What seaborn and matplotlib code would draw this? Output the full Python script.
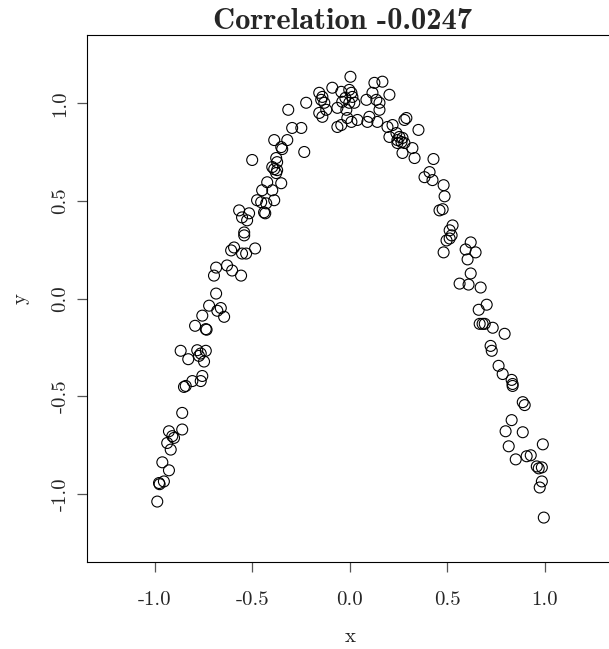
import matplotlib
matplotlib.use("Agg")
import matplotlib.pyplot as plt
import seaborn as sns
import pandas as pd

# ---- data ----
x_vals = [
    -0.722, -0.662, -0.680, -0.757, -0.645, -0.794, -0.739, -0.735, -0.868, -0.829,
    -0.783, -0.739, -0.765, -0.774, -0.748, -0.757, -0.765, -0.808, -0.842, -0.851,
    -0.860, -0.860, -0.928, -0.911, -0.902, -0.937, -0.919, -0.962, -0.928, -0.979,
    -0.954, -0.976, -0.988,
    -0.686, -0.686, -0.630, -0.604, -0.697, -0.558, -0.594, -0.609, -0.553, -0.532, -0.486,
    -0.542, -0.542, -0.568, -0.517, -0.553, -0.527, -0.476, -0.455, -0.429, -0.388, -0.440, -0.434,
    -0.352, -0.424, -0.450, -0.398, -0.378, -0.373, -0.398, -0.388, -0.373, -0.378, -0.501,
    -0.352, -0.347, -0.388, -0.321, -0.234, -0.296, -0.249, -0.316, -0.224,
    -0.157, -0.141, -0.147, -0.131, -0.157, -0.141, -0.121, -0.090, -0.044, -0.003,
    0.008, 0.013, -0.023, -0.039, -0.003, 0.023, -0.064, -0.018, 0.003,
    -0.064, -0.044, 0.008, 0.039, -0.013, 0.100, 0.090, 0.141, 0.085, 0.126,
    0.167, 0.116, 0.136, 0.152, 0.203, 0.152,
    0.193, 0.219, 0.280, 0.290, 0.352, 0.203, 0.239, 0.254, 0.244, 0.265,
    0.270, 0.280, 0.244, 0.321, 0.332, 0.270,
    0.409, 0.383, 0.424,
    0.429, 0.481, 0.486, 0.460, 0.476, 0.527, 0.512, 0.522, 0.496, 0.512,
    0.481, 0.620, 0.594, 0.645, 0.604, 0.620, 0.563, 0.609, 0.671,
    0.702, 0.661, 0.666, 0.681, 0.692, 0.733, 0.794, 0.722, 0.728, 0.763,
    0.784, 0.830, 0.835, 0.835, 0.887, 0.897, 0.830, 0.799, 0.887, 0.815,
    0.851, 0.907, 0.928, 0.990, 0.959, 0.969, 0.985, 0.985, 0.974, 0.995,
]
y_vals = [
    -0.036, -0.048, -0.062, -0.087, -0.093, -0.139, -0.156, -0.159, -0.267, -0.310,
    -0.264, -0.267, -0.281, -0.293, -0.322, -0.396, -0.422, -0.422, -0.447, -0.452,
    -0.585, -0.670, -0.679, -0.704, -0.713, -0.739, -0.773, -0.838, -0.879, -0.944,
    -0.936, -0.950, -1.039,
    0.026, 0.159, 0.170, 0.144, 0.118, 0.118, 0.262, 0.247, 0.231, 0.231, 0.257,
    0.339, 0.324, 0.452, 0.437, 0.416, 0.401, 0.504, 0.494, 0.488, 0.504, 0.442, 0.437,
    0.591, 0.596, 0.555, 0.555, 0.720, 0.699, 0.674, 0.663, 0.658, 0.643, 0.710,
    0.776, 0.766, 0.812, 0.812, 0.751, 0.874, 0.874, 0.967, 1.003,
    1.054, 1.033, 1.018, 1.003, 0.951, 0.931, 0.967, 1.080, 1.059, 1.069,
    1.054, 1.033, 1.028, 1.008, 1.003, 1.003, 0.977, 0.967, 1.136,
    0.879, 0.889, 0.905, 0.915, 0.925, 0.931, 0.905, 0.905, 1.018, 1.105,
    1.111, 1.054, 1.018, 1.003, 1.044, 0.967,
    0.879, 0.889, 0.915, 0.925, 0.864, 0.828, 0.848, 0.828, 0.812, 0.802,
    0.823, 0.797, 0.797, 0.771, 0.720, 0.746,
    0.648, 0.622, 0.607,
    0.715, 0.581, 0.524, 0.452, 0.458, 0.375, 0.350, 0.324, 0.298, 0.308,
    0.237, 0.288, 0.252, 0.237, 0.201, 0.129, 0.077, 0.072, 0.057,
    -0.031, -0.057, -0.129, -0.129, -0.129, -0.149, -0.180, -0.242, -0.267, -0.344,
    -0.386, -0.416, -0.437, -0.447, -0.530, -0.545, -0.622, -0.679, -0.684, -0.756,
    -0.823, -0.807, -0.802, -0.746, -0.859, -0.869, -0.864, -0.936, -0.967, -1.121,
]
x_ticks = [-1.0, -0.5, 0.0, 0.5, 1.0]
x_tick_labels = ["-1.0", "-0.5", "0.0", "0.5", "1.0"]
y_ticks = [-1.0, -0.5, 0.0, 0.5, 1.0]
y_tick_labels = ["-1.0", "-0.5", "0.0", "0.5", "1.0"]
title_text = "Correlation -0.0247"

df = pd.DataFrame({"x": x_vals, "y": y_vals})

sns.set_style("ticks")
plt.rcParams["font.family"] = ["cmr10", "DejaVu Serif"]
plt.rcParams["axes.unicode_minus"] = False
plt.rcParams["axes.formatter.use_mathtext"] = True

fig = plt.figure(figsize=(6.09, 6.49), dpi=100)
ax = fig.add_axes([86.7 / 609, (649 - 562.3) / 649, (613 - 86.7) / 609, (562.3 - 35) / 649])

sns.scatterplot(data=df, x="x", y="y", ax=ax, marker="o", s=62,
                facecolor="none", edgecolor="black", linewidth=0.8, legend=False)

ax.set_xlim(-1.35, 1.35)
ax.set_ylim(-1.35, 1.35)
ax.set_xticks(x_ticks)
ax.set_xticklabels(x_tick_labels, fontsize=15)
ax.set_yticks(y_ticks)
ax.set_yticklabels(y_tick_labels, fontsize=15, rotation=90, va="center")
ax.tick_params(axis="x", direction="out", length=7.3, width=0.9, color="#555555", pad=13.5)
ax.tick_params(axis="y", direction="out", length=7.3, width=0.9, color="#555555", pad=5)
for sp in ax.spines.values():
    sp.set_visible(True)
    sp.set_color("black")
    sp.set_linewidth(0.8)

ax.set_xlabel("x", fontsize=15, labelpad=14)
ax.set_ylabel("y", fontsize=15, labelpad=16)
ax.set_title(title_text, fontfamily="cmb10", fontsize=22, pad=3, x=0.487)

fig.savefig("out.png", dpi=100)
